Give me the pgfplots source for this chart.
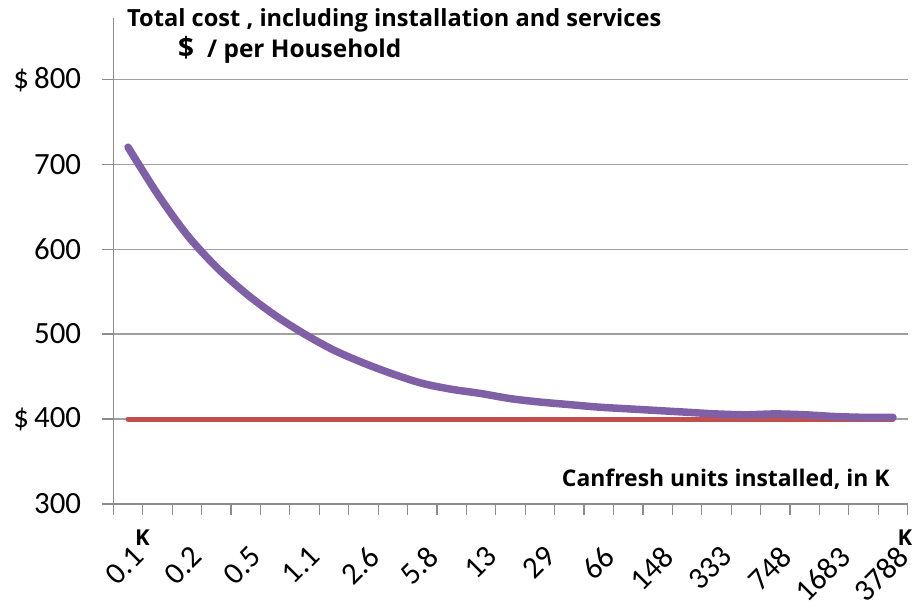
\documentclass[border=0pt]{standalone}
\usepackage{pgfplots}
\pgfplotsset{compat=1.18}
\usepackage{pgfplotstable}
\usepackage{fontspec}
\setmainfont{Carlito}
\newfontfamily\titlefont{Open Sans}
\definecolor{purp}{HTML}{7F60A6}
\definecolor{redl}{HTML}{C0504D}
\definecolor{gridc}{HTML}{A0A0A0}
\definecolor{axc}{HTML}{8C8C8C}

\pgfplotstableread{
i cost
0 720
1 665
2 617
3 579
4 548
5 522
6 500
7 481
8 466
9 453
10 442
11 435
12 430
13 424
14 420
15 417
16 414
17 412
18 410
19 408
20 406
21 405
22 406
23 405
24 403
25 402
26 402
}\costtable

\pgfplotstableread{
i base
0 400
26 400
}\basetable

\begin{document}
\begin{tikzpicture}
\path[use as bounding box] (0,0) rectangle (914bp,609bp);
\begin{axis}[
 at={(113.3bp,105bp)}, anchor=south west,
 width=794.4bp, height=486bp, scale only axis,
 xmin=-0.5, xmax=26.5, ymin=300, ymax=872,
 axis lines=left, axis line style={axc, line width=1.2bp, -},
 xtick={-0.5,0.5,...,26.5},
 x tick label as interval,
 xticklabels={0.1,,0.2,,0.5,,1.1,,2.6,,5.8,,13,,29,,66,,148,,333,,748,,1683,,3788},
 ytick={300,400,...,800},
 yticklabels={300,\$\,400,500,600,700,\$\,800},
 tick align=outside,
 major tick length=11bp,
 tick style={axc, line width=1.2bp},
 ymajorgrids, grid style={gridc, line width=1.2bp},
 ticklabel style={font=\fontsize{31}{31}\selectfont},
 xticklabel style={yshift=-29bp, xshift=3bp, rotate=45, anchor=north east, inner sep=0pt},
 yticklabel style={inner sep=0pt, xshift=-21bp},
 clip=false,
]
\addplot[redl, line width=5bp, line cap=round] table[x=i, y=base]{\basetable};
\addplot[purp, line width=7.5bp, smooth, tension=0.5, line cap=round, line join=round] table[x=i, y=cost]{\costtable};
\end{axis}
\node[anchor=base west, inner sep=0pt, font=\titlefont\bfseries\fontsize{23.7}{24}\selectfont] at (127bp,582bp) {Total cost , including installation and services};
\node[anchor=base west, inner sep=0pt, font=\titlefont\bfseries\fontsize{28}{28}\selectfont] at (178bp,551bp) {\$};
\node[anchor=base west, inner sep=0pt, font=\titlefont\bfseries\fontsize{24.5}{25}\selectfont] at (207bp,551bp) {/ per Household};
\node[anchor=base west, inner sep=0pt, font=\titlefont\bfseries\fontsize{23}{23}\selectfont] at (561.7bp,122.3bp) {Canfresh units installed, in K};
\node[inner sep=0pt, font=\titlefont\bfseries\fontsize{22}{22}\selectfont] at (142.5bp,71.5bp) {K};
\node[inner sep=0pt, font=\titlefont\bfseries\fontsize{22}{22}\selectfont] at (905bp,71.5bp) {K};
\end{tikzpicture}
\end{document}
